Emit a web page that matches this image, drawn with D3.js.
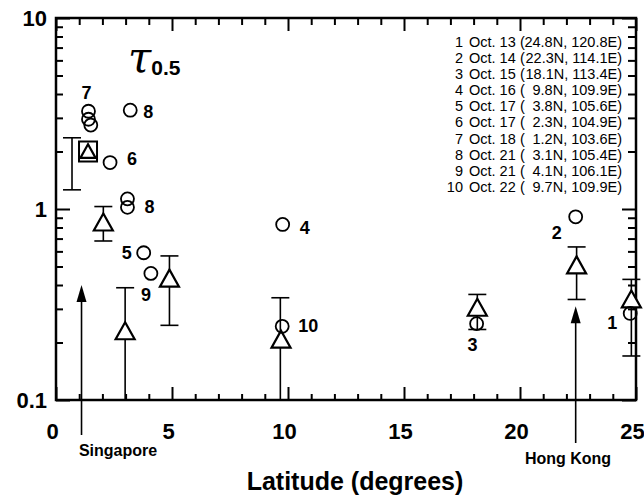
<!DOCTYPE html>
<html>
<head>
<meta charset="utf-8">
<script src="https://cdn.jsdelivr.net/npm/d3@7"></script>
<style>
  body { margin: 0; background: white; }
</style>
</head>
<body>
<script>
// open circles: single events, numbered as in the list
const circleLat = [1.4, 1.4, 1.5, 3.2, 2.33, 3.08, 3.08, 9.77, 3.78, 4.09, 9.75, 22.4, 18.13, 24.75];
const circleVal = [3.25, 2.95, 2.75, 3.29, 1.75, 1.13, 1.02, 0.83, 0.59, 0.46, 0.243, 0.91, 0.251, 0.284];

const labelText = ["7", "8", "6", "8", "5", "9", "4", "10", "2", "3", "1"];
const labelLat = [1.4, 3.2, 2.33, 3.08, 3.78, 4.09, 9.77, 9.75, 22.4, 18.13, 24.75];
const labelVal = [3.25, 3.29, 1.75, 1.07, 0.59, 0.46, 0.83, 0.243, 0.91, 0.251, 0.284];

// triangles with error bars (lo = null runs off the bottom)
const triLat = [1.38, 2.04, 2.98, 4.89, 9.7, 18.16, 22.44, 24.8];
const triVal = [2.0, 0.85, 0.229, 0.432, 0.207, 0.304, 0.507, 0.336];
const barLat = [0.69, 2.04, 2.98, 4.89, 9.67, 18.16, 22.44, 24.8];
const barHi = [2.36, 1.03, 0.387, 0.568, 0.343, 0.357, 0.633, 0.428];
const barLo = [1.26, 0.68, null, 0.246, null, 0.234, 0.336, 0.17];
const boxed = [0];

const siteName = ["Singapore", "Hong Kong"];
const siteLat = [1.1, 22.4];
const siteTip = [0.40, 0.31];

const xMajor = [0, 5, 10, 15, 20, 25];
const xMinor = d3.range(0, 26).filter(d => d % 5 != 0);
const yMajor = [0.1, 1, 10];
const yMinor = [0.2, 0.3, 0.4, 0.5, 0.6, 0.7, 0.8, 0.9, 2, 3, 4, 5, 6, 7, 8, 9];

const legendNum = ["1", "2", "3", "4", "5", "6", "7", "8", "9", "10"];
const legendDate = ["Oct. 13", "Oct. 14", "Oct. 15", "Oct. 16", "Oct. 17", "Oct. 17", "Oct. 18", "Oct. 21", "Oct. 21", "Oct. 22"];
const legendPos = ["24.8N, 120.8E)", "22.3N, 114.1E)", "18.1N, 113.4E)", "9.8N, 109.9E)", "3.8N, 105.6E)",
  "2.3N, 104.9E)", "1.2N, 103.6E)", "3.1N, 105.4E)", "4.1N, 106.1E)", "9.7N, 109.9E)"];

const FONT = "'Liberation Sans', Arial, Helvetica, sans-serif";
const labelOff = [[-2, -19], [18, 1], [22, -4], [22, 3], [-17, 0], [-5, 21], [22, 3], [26, -1], [-19, 16], [-4, 21], [-18, 9]];

const svg = d3.select("body").append("svg")
  .attr("width", 644)
  .attr("height", 496)
  .style("background-color", "white");

const x = d3.scaleLinear().domain([0, 25]).range([56, 636]);
const y = d3.scaleLog().domain([0.1, 10]).range([400, 18]);

function styleAxis(g) {
  g.select(".domain").remove();
  g.selectAll("line").attr("stroke", "black").attr("stroke-width", 2);
  g.selectAll("text").attr("font-family", FONT).attr("font-weight", "bold")
    .attr("font-size", "22px").attr("fill", "black");
}

// axes, ticks point inwards
svg.append("g").attr("transform", "translate(0,400)")
  .call(d3.axisBottom(x).tickValues(xMajor).tickSize(-13).tickPadding(23).tickFormat(d3.format("d")))
  .call(styleAxis)
  .selectAll("text").attr("dx", -4);
svg.append("g").attr("transform", "translate(0,400)")
  .call(d3.axisBottom(x).tickValues(xMinor).tickSize(-6).tickFormat(""))
  .call(styleAxis);
svg.append("g").attr("transform", "translate(0,18)")
  .call(d3.axisTop(x).tickValues(xMajor).tickSize(-13).tickFormat(""))
  .call(styleAxis);
svg.append("g").attr("transform", "translate(0,18)")
  .call(d3.axisTop(x).tickValues(xMinor).tickSize(-7).tickFormat(""))
  .call(styleAxis);
svg.append("g").attr("transform", "translate(56,0)")
  .call(d3.axisLeft(y).tickValues(yMajor).tickSize(-14).tickPadding(9).tickFormat(d => d))
  .call(styleAxis);
svg.append("g").attr("transform", "translate(56,0)")
  .call(d3.axisLeft(y).tickValues(yMinor).tickSize(-7).tickFormat(""))
  .call(styleAxis);
svg.append("g").attr("transform", "translate(636,0)")
  .call(d3.axisRight(y).tickValues(yMajor).tickSize(-14).tickFormat(""))
  .call(styleAxis);
svg.append("g").attr("transform", "translate(636,0)")
  .call(d3.axisRight(y).tickValues(yMinor).tickSize(-8).tickFormat(""))
  .call(styleAxis);

svg.append("rect")
  .attr("x", 56).attr("y", 18)
  .attr("width", 580).attr("height", 382)
  .attr("fill", "none")
  .attr("stroke", "black")
  .attr("stroke-width", 2.5);

// error bars
const bars = svg.append("g").attr("stroke", "black").attr("stroke-width", 1.6);
barLat.forEach((lat, i) => {
  const bx = x(lat);
  const top = y(barHi[i]);
  const bot = barLo[i] == null ? y(0.1) : y(barLo[i]);
  bars.append("line").attr("x1", bx).attr("x2", bx).attr("y1", top).attr("y2", bot);
  bars.append("line").attr("x1", bx - 9).attr("x2", bx + 9).attr("y1", top).attr("y2", top);
  if (barLo[i] != null)
    bars.append("line").attr("x1", bx - 9).attr("x2", bx + 9).attr("y1", bot).attr("y2", bot);
});

// arrows for the two stations
siteLat.forEach((lat, i) => {
  const ax = x(lat);
  const tip = y(siteTip[i]);
  svg.append("line")
    .attr("x1", ax).attr("x2", ax)
    .attr("y1", tip + 10).attr("y2", i == 0 ? 435 : 443)
    .attr("stroke", "black").attr("stroke-width", 1.6);
  svg.append("path")
    .attr("d", `M${ax},${tip} L${ax - 5},${tip + 17} L${ax + 5},${tip + 17} Z`)
    .attr("fill", "black");
  svg.append("text")
    .attr("x", i == 0 ? 118 : 568)
    .attr("y", i == 0 ? 456 : 464)
    .attr("text-anchor", "middle")
    .attr("font-family", FONT)
    .attr("font-weight", "bold")
    .attr("font-size", "16px")
    .text(siteName[i]);
});

boxed.forEach(i => {
  svg.append("rect")
    .attr("x", x(triLat[i]) - 9).attr("y", y(triVal[i]) - 10)
    .attr("width", 18).attr("height", 20)
    .attr("fill", "white")
    .attr("stroke", "black")
    .attr("stroke-width", 2);
});

// triangles
triLat.forEach((lat, i) => {
  const tx = x(lat), ty = y(triVal[i]);
  const s = boxed.includes(i) ? 0.8 : 1;
  svg.append("path")
    .attr("d", `M${tx},${ty - 9 * s} L${tx - 9.5 * s},${ty + 8 * s} L${tx + 9.5 * s},${ty + 8 * s} Z`)
    .attr("fill", "white")
    .attr("stroke", "black")
    .attr("stroke-width", 2.2)
    .attr("stroke-linejoin", "miter");
});

// circles
circleLat.forEach((lat, i) => {
  svg.append("circle")
    .attr("cx", x(lat))
    .attr("cy", y(circleVal[i]))
    .attr("r", 6.5)
    .attr("fill", "none")
    .attr("stroke", "black")
    .attr("stroke-width", 1.8);
});

labelText.forEach((t, i) => {
  svg.append("text")
    .attr("x", x(labelLat[i]) + labelOff[i][0])
    .attr("y", y(labelVal[i]) + labelOff[i][1])
    .attr("dy", "0.36em")
    .attr("text-anchor", "middle")
    .attr("font-family", FONT)
    .attr("font-weight", "bold")
    .attr("font-size", "18px")
    .text(t);
});

// list of dates and positions
legendNum.forEach((n, i) => {
  const ly = 41.7 + i * 16.1;
  const g = svg.append("g")
    .attr("font-family", FONT)
    .attr("font-size", "14.5px")
    .attr("fill", "black");
  g.append("text").attr("x", 463).attr("y", ly).attr("dy", "0.36em")
    .attr("text-anchor", "end").text(n);
  g.append("text").attr("x", 469).attr("y", ly).attr("dy", "0.36em").text(legendDate[i]);
  g.append("text").attr("x", 520).attr("y", ly).attr("dy", "0.36em").text("(");
  g.append("text").attr("x", 622).attr("y", ly).attr("dy", "0.36em")
    .attr("text-anchor", "end").text(legendPos[i]);
});

const tau = svg.append("text")
  .attr("x", 128)
  .attr("y", 72)
  .attr("fill", "black");
tau.append("tspan")
  .attr("font-family", "'DejaVu Serif', 'Liberation Serif', serif")
  .attr("font-style", "italic")
  .attr("font-size", "42px")
  .text("τ");
tau.append("tspan")
  .attr("font-family", FONT)
  .attr("font-weight", "bold")
  .attr("font-size", "21px")
  .attr("dy", 3)
  .text("0.5");

svg.append("text")
  .attr("x", 355)
  .attr("y", 490)
  .attr("text-anchor", "middle")
  .attr("font-family", FONT)
  .attr("font-weight", "bold")
  .attr("font-size", "25px")
  .text("Latitude (degrees)");
</script>
</body>
</html>
